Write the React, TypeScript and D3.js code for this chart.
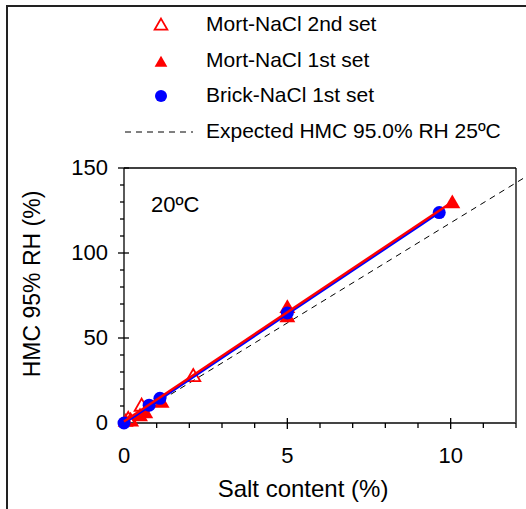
import React from 'react';
import * as d3 from 'd3';

// salt content (%) vs HMC at 95% RH (%)
const brickX = [0, 0.77, 1.1, 5.0, 9.65];
const brickY = [0, 10.5, 14.5, 64.7, 123.8];
const mort1X = [0.05, 0.49, 0.65, 1.15, 5.0, 5.0, 10.05];
const mort1Y = [0.5, 3.7, 5.5, 11.7, 62, 67.4, 129];
const mort2X = [0.13, 0.2, 0.54, 2.12];
const mort2Y = [1.8, 0.8, 9.6, 27];
const brickFit = [[0, 0], [9.65, 124]];
const mortFit = [[0, 0], [10, 128.5]];
const expected = [[0, 0], [12.4, 146]];
const xTicks = [0, 5, 10];
const yTicks = [0, 50, 100, 150];
const legendItems = ['Mort-NaCl 2nd set', 'Mort-NaCl 1st set', 'Brick-NaCl 1st set', 'Expected HMC 95.0% RH 25ºC'];

const W = 526, H = 509;
const font = 'Liberation Sans, Arial, sans-serif';

export default function App() {
  const x = d3.scaleLinear().domain([0, 12]).range([124, 516]);
  const y = d3.scaleLinear().domain([0, 150]).range([423, 168]);
  const ln = d3.line<number[]>().x(d => x(d[0])).y(d => y(d[1]));
  const tri = d3.symbol().type(d3.symbolTriangle).size(110)();
  const triOpen = d3.symbol().type(d3.symbolTriangle).size(85)();
  const triLeg = d3.symbol().type(d3.symbolTriangle).size(70)();
  const xMinor = d3.range(0, 13, 1).filter(v => v % 5 !== 0);
  const yMinor = d3.range(0, 151, 10).filter(v => v % 50 !== 0);
  const legY = [31, 67, 102, 138];

  return (
    <svg width={W} height={H} style={{ position: 'absolute', left: 0, top: 0 }} fontFamily={font}>
      <rect width={W} height={H} fill="white" />
      {/* outer frame */}
      <path d={`M7,${H} V6 H${W}`} fill="none" stroke="#222" strokeWidth={2} />

      {/* legend */}
      <path d={triLeg} transform="translate(161,26)" fill="none" stroke="red" strokeWidth={1.8} />
      <path d={triLeg} transform="translate(161,63)" fill="red" />
      <circle cx={161} cy={96} r={6} fill="blue" />
      <line x1={125} x2={193} y1={132} y2={132} stroke="black" strokeDasharray="6,5" />
      {legendItems.map((t, i) => (
        <text key={t} x={206} y={legY[i]} fontSize={21}>{t}</text>
      ))}

      {/* plot frame */}
      <line x1={x(0)} x2={x(12)} y1={y(150)} y2={y(150)} stroke="black" strokeWidth={1.3} />
      <line x1={x(12)} x2={x(12)} y1={y(150)} y2={y(0)} stroke="black" strokeWidth={1.3} />
      <line x1={x(0)} x2={x(0)} y1={y(150)} y2={y(0)} stroke="black" strokeWidth={1.3} />
      <line x1={x(0)} x2={x(12)} y1={y(0)} y2={y(0)} stroke="#444" strokeWidth={2} />

      {/* ticks */}
      {xTicks.map(v => (
        <g key={'x' + v}>
          <line x1={x(v)} x2={x(v)} y1={y(0) - 5} y2={y(0) + 6} stroke="black" strokeWidth={1.3} />
          <text x={x(v)} y={463} fontSize={22} textAnchor="middle">{v}</text>
        </g>
      ))}
      {xMinor.map(v => (
        <line key={'xm' + v} x1={x(v)} x2={x(v)} y1={y(0)} y2={y(0) + 5} stroke="black" strokeWidth={1.3} />
      ))}
      {yTicks.map(v => (
        <g key={'y' + v}>
          <line x1={x(0) - 6} x2={x(0) + 5} y1={y(v)} y2={y(v)} stroke="black" strokeWidth={1.3} />
          <text x={108} y={y(v) + 7} fontSize={22} textAnchor="end">{v}</text>
        </g>
      ))}
      {yMinor.map(v => (
        <line key={'ym' + v} x1={x(0) - 4} x2={x(0)} y1={y(v)} y2={y(v)} stroke="black" strokeWidth={1.3} />
      ))}

      <text x={303} y={497} fontSize={24} textAnchor="middle">Salt content (%)</text>
      <text transform="translate(40,284) rotate(-90)" fontSize={23} textAnchor="middle">HMC 95% RH (%)</text>
      <text x={151} y={212} fontSize={22}>20ºC</text>

      {/* expected line */}
      <path d={ln(expected) ?? ''} fill="none" stroke="black" strokeWidth={1} strokeDasharray="6,5" />

      {/* markers */}
      {mort2X.map((v, i) => (
        <path key={'m2' + i} d={triOpen} transform={`translate(${x(v)},${y(mort2Y[i])})`} fill="none" stroke="red" strokeWidth={1.8} />
      ))}
      {mort1X.map((v, i) => (
        <path key={'m1' + i} d={tri} transform={`translate(${x(v)},${y(mort1Y[i])})`} fill="red" />
      ))}
      {brickX.map((v, i) => (
        <circle key={'b' + i} cx={x(v)} cy={y(brickY[i])} r={6.5} fill="blue" />
      ))}

      {/* fitted lines */}
      <path d={ln(brickFit) ?? ''} fill="none" stroke="blue" strokeWidth={3} />
      <path d={ln(mortFit) ?? ''} fill="none" stroke="red" strokeWidth={2.5} transform="translate(0,-1.5)" />
    </svg>
  );
}
